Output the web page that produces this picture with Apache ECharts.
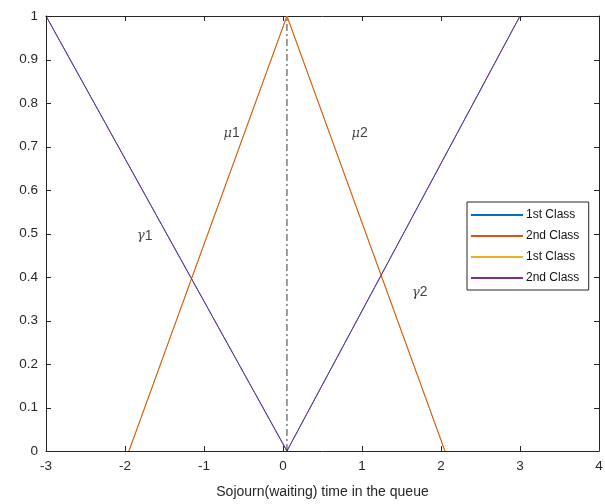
<!DOCTYPE html>
<html>
<head>
<meta charset="utf-8">
<script src="https://cdn.jsdelivr.net/npm/echarts@6/dist/echarts.min.js"></script>
<style>
html,body{margin:0;padding:0;background:#fff;}
#chart{width:605px;height:504px;}
</style>
</head>
<body>
<div id="chart"></div>
<script>
// Membership functions: waiting-time sets for the two classes
const gammaPts = [[-3, 1], [0.05, 0], [3, 1]];         // γ1 / γ2 (V shape)
const muPts = [[-1.95, 0], [0.05, 1], [2.05, 0]];       // μ1 / μ2 (peak)
const divider = [[0.05, 0], [0.05, 1]];                 // dash-dot separator
const seriesNames = ['1st Class', '2nd Class', '1st Class', '2nd Class'];
const seriesColors = ['#0072BD', '#D95319', '#EDB120', '#7E2F8E'];
const curveLabels = [
  { sym: 'μ', idx: '1', x: -0.65, y: 0.73 },
  { sym: 'μ', idx: '2', x: 0.97, y: 0.73 },
  { sym: 'γ', idx: '1', x: -1.75, y: 0.495 },
  { sym: 'γ', idx: '2', x: 1.73, y: 0.365 }
];
const xTicks = [-3, -2, -1, 0, 1, 2, 3, 4];
const yTicks = [0, 0.1, 0.2, 0.3, 0.4, 0.5, 0.6, 0.7, 0.8, 0.9, 1];

const FONT = 'Liberation Sans, Arial, sans-serif';
const AXIS_COLOR = '#262626';
const TICK_LEN = 5;
const chart = echarts.init(document.getElementById('chart'));

const lineData = [gammaPts, muPts, muPts, gammaPts];
const zOrder = [2, 4, 3, 5];

const series = lineData.map((pts, i) => ({
  name: seriesNames[i] + (i >= 2 ? ' ' : ''),
  type: 'line',
  data: pts,
  showSymbol: false,
  symbol: 'none',
  z: zOrder[i],
  lineStyle: { color: seriesColors[i], width: 1 },
  itemStyle: { color: seriesColors[i] },
  animation: false
}));

series.push({
  name: 'divider',
  type: 'line',
  data: divider,
  symbol: 'none',
  z: 6,
  lineStyle: { color: '#3a3a3a', width: 1, type: [7, 3, 2, 3] },
  animation: false
});

series.push({
  name: 'labels',
  type: 'scatter',
  symbolSize: 0,
  data: curveLabels.map(l => ({ value: [l.x, l.y], name: l.sym + '|' + l.idx })),
  label: {
    show: true,
    position: 'inside',
    formatter: p => {
      const [s, n] = p.name.split('|');
      return '{g|' + s + '}{n|' + n + '}';
    },
    rich: {
      g: { fontFamily: 'DejaVu Serif, serif', fontStyle: 'italic', fontSize: 13, color: '#111' },
      n: { fontFamily: FONT, fontSize: 14, color: '#111' }
    }
  },
  z: 7,
  animation: false
});

const makeLine = () => ({ show: true, onZero: false, lineStyle: { color: AXIS_COLOR, width: 1 } });

chart.setOption({
  animation: false,
  grid: { left: 46, right: 6, top: 16, bottom: 53, containLabel: false, outerBoundsMode: 'none' },
  legend: {
    data: seriesNames.map((n, i) => ({ name: n + (i >= 2 ? ' ' : '') })),
    orient: 'vertical',
    left: 467,
    top: 202,
    width: 112,
    itemWidth: 52,
    itemHeight: 2,
    itemGap: 9,
    padding: [7, 6, 6, 4],
    icon: 'rect',
    borderColor: AXIS_COLOR,
    borderWidth: 1,
    backgroundColor: '#ffffff',
    textStyle: { fontFamily: FONT, fontSize: 12, color: '#111', padding: [0, 0, 0, -2] },
    selectedMode: false
  },
  xAxis: [{
    type: 'value',
    min: -3, max: 4, interval: 1,
    position: 'bottom',
    name: 'Sojourn(waiting) time in the queue',
    nameLocation: 'middle',
    nameGap: 34,
    nameTextStyle: { fontFamily: FONT, fontSize: 14, color: AXIS_COLOR },
    axisLine: makeLine(),
    axisTick: { show: false },
    axisLabel: { fontFamily: FONT, fontSize: 13.5, color: AXIS_COLOR, margin: 8, customValues: xTicks },
    splitLine: { show: false }
  }, {
    type: 'value',
    min: -3, max: 4, interval: 1,
    position: 'top',
    axisLine: makeLine(),
    axisTick: { show: false },
    axisLabel: { show: false },
    splitLine: { show: false }
  }],
  yAxis: [{
    type: 'value',
    min: 0, max: 1, interval: 0.1,
    position: 'left',
    axisLine: makeLine(),
    axisTick: { show: false },
    axisLabel: { fontFamily: FONT, fontSize: 13.5, color: AXIS_COLOR, margin: 8, customValues: yTicks },
    splitLine: { show: false }
  }, {
    type: 'value',
    min: 0, max: 1, interval: 0.1,
    position: 'right',
    axisLine: makeLine(),
    axisTick: { show: false },
    axisLabel: { show: false },
    splitLine: { show: false }
  }],
  series: series
});

// Inward tick marks on all four sides of the axes box, placed through the axis scales
const px = v => chart.convertToPixel({ xAxisIndex: 0 }, v);
const py = v => chart.convertToPixel({ yAxisIndex: 0 }, v);
const xLeft = Math.round(px(-3)), xRight = Math.round(px(4));
const yBottom = Math.round(py(0)), yTop = Math.round(py(1));
const tickLines = [];
const tickStyle = { stroke: AXIS_COLOR, lineWidth: 1 };
xTicks.forEach(v => {
  const x = Math.round(px(v)) + 0.5;
  tickLines.push({ type: 'line', silent: true, z: 10,
    shape: { x1: x, y1: yBottom, x2: x, y2: yBottom - TICK_LEN }, style: tickStyle });
  tickLines.push({ type: 'line', silent: true, z: 10,
    shape: { x1: x, y1: yTop, x2: x, y2: yTop + TICK_LEN }, style: tickStyle });
});
yTicks.forEach(v => {
  const y = Math.round(py(v)) + 0.5;
  tickLines.push({ type: 'line', silent: true, z: 10,
    shape: { x1: xLeft, y1: y, x2: xLeft + TICK_LEN, y2: y }, style: tickStyle });
  tickLines.push({ type: 'line', silent: true, z: 10,
    shape: { x1: xRight, y1: y, x2: xRight - TICK_LEN, y2: y }, style: tickStyle });
});
chart.setOption({ graphic: { elements: tickLines } });
</script>
</body>
</html>
